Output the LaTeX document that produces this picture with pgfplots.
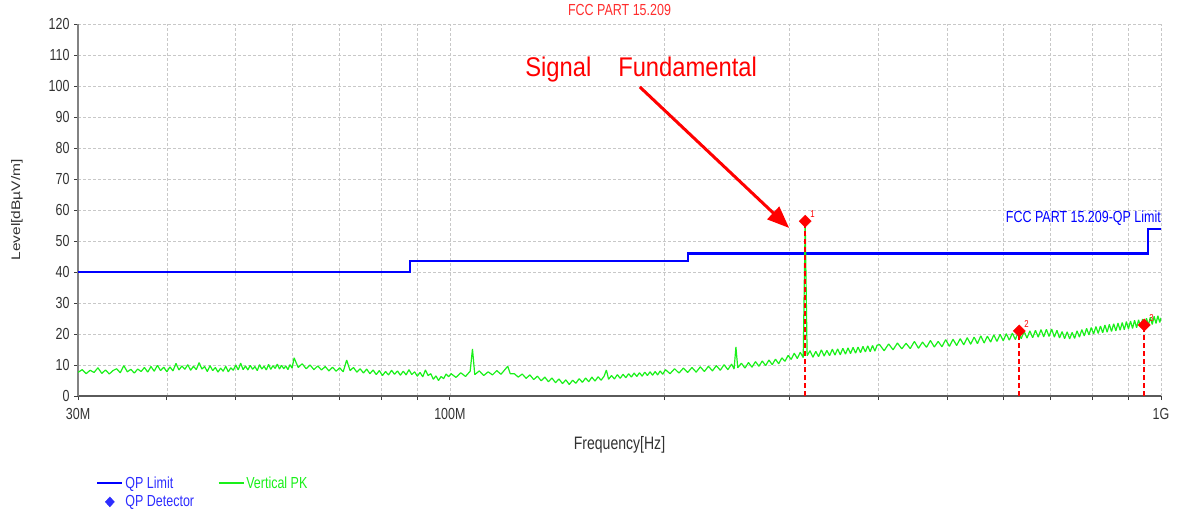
\documentclass[border=0pt]{standalone}
\usepackage{fontspec}
\setmainfont{Liberation Sans}[FakeStretch=0.78]
\newfontfamily\bigfont{Liberation Sans}[FakeStretch=0.88]
\newfontfamily\plainfont{Liberation Sans}
\usepackage{graphicx}
\usepackage{pgfplots}
\pgfplotsset{compat=1.18}
\usetikzlibrary{arrows.meta}
\definecolor{qpblue}{RGB}{0,0,255}
\definecolor{legblue}{RGB}{45,45,255}
\definecolor{pkgreen}{RGB}{25,240,25}
\definecolor{mkred}{RGB}{255,0,0}
\definecolor{ttlred}{RGB}{255,45,45}
\definecolor{gridgray}{RGB}{200,200,200}
\definecolor{ticktext}{RGB}{50,50,50}
\begin{document}
\begin{tikzpicture}
\path[use as bounding box] (0,0) rectangle (1177pt,515pt);
\begin{axis}[
  at={(78pt,119pt)}, anchor=south west,
  scale only axis, width=1083pt, height=372pt,
  xmode=log, xmin=30, xmax=1000, ymin=0, ymax=120,
  log basis x=10,
  xtick={30,40,50,60,70,80,90,100,200,300,400,500,600,700,800,900,1000},
  xticklabels={30M,,,,,,,100M,,,,,,,,,1G},
  ytick={0,10,...,120},
  minor xtick={}, 
  /pgf/number format/assume math mode=true,
  axis x line*=bottom, axis y line*=left,
  x axis line style={-, draw={rgb,255:red,90;green,90;blue,90}, line width=1.4pt},
  y axis line style={-, draw={rgb,255:red,130;green,130;blue,130}, line width=2pt},
  tick align=outside, major tick length=4pt,
  tick style={draw={rgb,255:red,60;green,60;blue,60}, line width=0.8pt},
  grid=major,
  major grid style={draw=gridgray, line width=0.7pt, dash pattern=on 3pt off 2pt},
  tick label style={font=\fontsize{16}{16}\selectfont, text=ticktext},
  xticklabel style={yshift=-5pt},
  yticklabel style={xshift=-1pt},
  title={FCC PART 15.209},
  title style={font=\fontsize{16}{16}\selectfont, text=ttlred, at={(0.5,1)}, anchor=base, yshift=3pt, inner sep=0pt},
  xlabel={Frequency[Hz]},
  xlabel style={font=\fontsize{18}{18}\selectfont, text=ticktext, at={(axis description cs:0.5,0)}, anchor=base, yshift=-53pt, inner sep=0pt},
  ylabel={\plainfont\fontsize{15.5}{15.5}\selectfont\scalebox{1}[0.8]{Level[dBµV/m]}},
  ylabel style={text=ticktext, at={(axis description cs:-0.0563,0.5)}, anchor=center, inner sep=0pt},
  legend image code/.code={\draw[#1] (0pt,0pt) -- (25pt,0pt);},
  legend columns=2,
  legend style={draw=none, fill=none, at={(axis description cs:0.0139,-0.205)}, anchor=north west,
    font=\fontsize{16}{16}\selectfont, row sep=2pt,
    /tikz/every even column/.append style={column sep=22pt}},
  legend cell align=left,
]
% QP limit
\addplot[qpblue, line width=2.2pt, const plot] coordinates {(30,40) (88,43.5) (216,46) (960,54) (1000,54)};
\addlegendentry{\textcolor{legblue}{QP Limit}}
% Vertical PK trace
\addplot[pkgreen, line width=1.2pt, line join=bevel] coordinates {
(30,7.6) (30.4,8.5) (30.8,7.2) (31.2,8.3) (31.6,7.6) (32,9.1) (32.4,7.3) (32.8,8.4) (33.2,7.1) (33.6,8.2)
(34,8.8) (34.4,7.5) (34.8,9.8) (35.2,7.8) (35.6,8.6) (36,7.4) (36.4,8.7) (36.8,7.9) (37.2,9.2) (37.6,7.7)
(38,9.5) (38.4,8.0) (38.8,9.9) (39.2,8.2) (39.6,9.3) (40,7.8) (40.4,9.4) (40.8,8.1) (41.2,10.5) (41.6,8.4)
(42,9.7) (42.4,8.6) (42.8,10.1) (43.2,8.3) (43.6,9.6) (44,8.5) (44.4,10.8) (44.8,8.7) (45.2,9.5) (45.6,7.9)
(46,9.8) (46.4,8.2) (46.8,9.2) (47.2,7.7) (47.6,9.0) (48,8.0) (48.4,9.6) (48.8,7.8) (49.2,9.1) (49.6,8.3)
(50,10.0) (50.4,8.4) (50.8,10.6) (51.2,8.5) (51.6,9.7) (52,8.4) (52.4,9.9) (52.8,8.6) (53.2,9.5) (53.6,8.2)
(54,10.1) (54.4,8.7) (54.8,9.6) (55.2,8.4) (55.6,10.2) (56,8.6) (56.4,9.8) (56.8,8.9) (57.2,10.3) (57.6,8.7)
(58,9.9) (58.4,8.8) (58.8,9.7) (59.2,8.5) (59.6,10.1) (60,9.0)
(60.4,12.3) (61.2,9.2) (62,10.4) (62.8,8.8) (63.6,10.0) (64.4,8.5) (65.2,9.7) (66,8.4) (66.8,9.5) (67.6,8.1)
(68.4,9.3) (69.2,8.0) (70,9.1) (70.8,7.8) (71.6,11.6) (72.4,8.2) (73.2,9.2) (74,7.7) (74.8,8.8) (75.6,7.4)
(76.4,8.7) (77.2,7.2) (78,8.4) (78.8,6.9) (79.6,8.2) (80.4,6.6) (81.2,7.9) (82,6.8) (82.8,8.3) (83.6,7.0)
(84.4,8.1) (85.2,6.7) (86,8.0) (86.8,6.8) (87.6,8.5) (88.4,6.9) (89.2,7.8) (90,6.4) (90.8,7.6) (91.6,6.2)
(92.4,8.4) (93.2,6.6) (94,7.2) (94.8,5.4) (95.6,6.5) (96.4,5.0) (97.2,6.3) (98,5.6) (98.8,7.1) (99.6,6.2)
(100.4,7.2) (102,6.0) (103.6,7.5) (105.2,6.3) (106.8,8.0) (107.6,15.2) (108.4,6.9) (110,8.1) (111.6,6.6) (113.2,7.8)
(114.8,6.8) (116.4,8.2) (118,7.0) (119.6,8.6) (120.6,9.6) (121.6,7.2) (123.2,7.2) (124.8,6.1) (126.4,7.1) (128,5.7)
(129.6,6.8) (131.2,5.3) (132.8,6.4) (134.4,4.9) (136,6.1) (137.6,4.6) (139.2,5.8) (140.8,4.3) (142.4,5.5) (144,4.0)
(145.6,5.2) (147.2,3.7) (148.8,5.1) (150.4,4.1) (152,5.6) (153.6,4.4) (155.2,5.8) (156.8,4.6) (158.4,6.1) (160,4.8)
(161.6,6.2) (163.2,5.1) (164.8,6.4) (166,8.4) (167.2,5.4) (168.8,6.6) (170.4,5.5) (172,6.9) (173.6,5.7) (175.2,7.0)
(176.8,5.9) (178.4,7.2) (180,6.1) (181.6,7.4) (183.2,6.3) (184.8,7.5) (186.4,6.4) (188,7.7) (189.6,6.6) (191.2,7.8)
(192.8,6.7) (194.4,7.9) (196,6.8) (197.6,8.1) (199.2,7.0)
(201,8.5) (204,7.2) (207,8.8) (210,7.4) (213,9.0) (216,7.6) (219,9.2) (222,7.7) (225,9.4) (228,7.9)
(231,9.6) (234,8.1) (237,9.8) (240,8.3) (243,10.1) (246,8.5) (249,10.3) (251,8.7) (252.5,15.8) (254,9.1)
(257,10.6) (260,9.0) (263,10.8) (266,9.3) (269,11.1) (272,9.6) (275,11.3) (278,9.8) (281,11.6) (284,10.1)
(287,11.9) (290,10.4) (293,12.3) (296,11.2) (299,13.1) (302,11.8) (305,13.8) (308,12.1) (311,14.1) (314,12.4)
(316,56.3) (318,13.0) (321,14.6) (324,12.5) (327,14.4) (330,12.7) (333,14.9) (336,12.9) (339,14.7) (342,13.0)
(345,15.1) (348,13.2) (351,15.2) (354,13.3) (357,15.4) (360,13.5) (363,15.5) (366,13.7) (369,15.7) (372,13.8)
(375,15.8) (378,14.0) (381,16.0) (384,14.2) (387,16.2) (390,14.3) (393,16.3) (396,14.5) (399,16.4)
(402,16.6) (408,14.6) (414,16.8) (420,14.9) (426,17.1) (432,15.2) (438,17.0) (444,15.3) (450,17.6) (456,15.4)
(462,17.4) (468,15.7) (474,17.9) (480,15.8) (486,17.6) (492,15.9) (498,18.2) (504,16.0) (510,18.3) (516,16.3)
(522,18.5) (528,16.5) (534,18.8) (540,16.7) (546,19.0) (552,16.9) (558,19.4) (564,17.1) (570,19.3) (576,17.4)
(582,19.7) (588,17.6) (594,19.9) (600,17.8) (606,20.1) (612,18.0) (618,20.3) (624,18.2) (630,20.6) (636,18.5)
(642,20.8) (648,18.7) (654,21.0) (660,18.8) (666,21.2) (672,19.0) (678,21.4) (684,19.1) (690,21.5) (696,19.2)
(702,21.6) (708,19.0) (714,21.2) (720,18.7) (726,20.8) (732,18.5) (738,20.7) (744,18.4) (750,20.5) (756,18.6)
(762,21.0) (768,19.0) (774,21.4) (780,19.4) (786,21.8) (792,19.7) (798,22.1) (804,20.0) (810,22.4) (816,20.2)
(822,22.6) (828,20.4) (834,22.9) (840,20.6) (846,23.1) (852,20.8) (858,23.3) (864,21.0) (870,23.5) (876,21.2)
(882,23.7) (888,21.4) (894,24.0) (900,21.6) (906,24.2) (912,21.8) (918,24.4) (924,22.0) (930,24.6) (936,22.2)
(942,24.8) (948,22.5) (954,25.1) (960,22.8) (966,25.4) (972,23.1) (978,25.7) (984,23.4) (990,25.9) (996,23.7)
(1000,25.2)
};
\addlegendentry{\textcolor{pkgreen}{Vertical PK}}
% QP detector stems
\addplot[color=mkred, draw=mkred, line width=1.6pt, dash pattern=on 5pt off 3pt, ycomb, forget plot] coordinates {(316,56.4) (632,21.0) (947,22.9)};
% QP detector markers
\addplot[only marks, mark=square*, mark size=4.3pt, mark options={rotate=45, fill=mkred, draw=mkred, solid},
  nodes near coords, point meta=explicit symbolic,
  nodes near coords style={font=\fontsize{10}{10}\selectfont, text=mkred, anchor=south west, inner sep=0pt, xshift=5pt, yshift=3pt},
  forget plot] coordinates {(316,56.4) [1] (632,21.0) [2] (947,22.9) [3]};
\addlegendimage{legend image code/.code={\fill[legblue] (12.5pt,-5pt) -- (17pt,0pt) -- (12.5pt,5pt) -- (8pt,0pt) -- cycle;}}
\addlegendentry{\textcolor{legblue}{QP Detector}}
% annotations
\node[anchor=base east, font=\fontsize{16}{16}\selectfont, text=qpblue, inner sep=0pt] at (axis cs:1000,56.1) {FCC PART 15.209-QP Limit};
\node[anchor=base west, font=\bigfont\fontsize{27}{27}\selectfont, text=mkred, inner sep=0pt] at (axis cs:127.6,103.2) {Signal};
\node[anchor=base west, font=\bigfont\fontsize{27}{27}\selectfont, text=mkred, inner sep=0pt] at (axis cs:172.4,103.2) {Fundamental};
\draw[mkred, line width=3pt, -{Triangle[length=22pt,width=17pt]}] (axis cs:185,99.7) -- (axis cs:300,54.2);
\end{axis}
\end{tikzpicture}
\end{document}
